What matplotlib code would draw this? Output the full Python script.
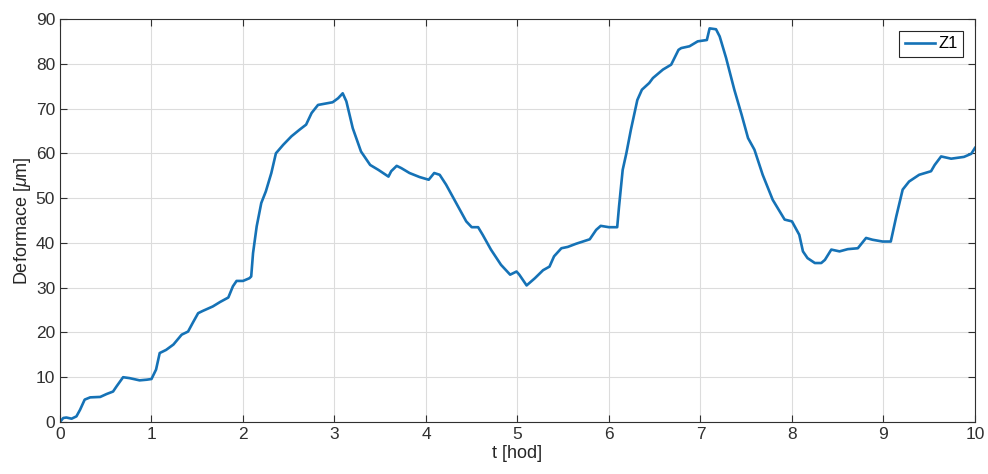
import numpy as np
import matplotlib
matplotlib.use("Agg")
import matplotlib.pyplot as plt

# Odečtené body křivky Z1 (čas v hodinách, deformace v µm)
t_hod = [0.0, 0.036, 0.07, 0.127, 0.18, 0.22, 0.27, 0.33, 0.44, 0.51, 0.58, 0.62,
         0.69, 0.76, 0.87, 0.95, 1.0, 1.05, 1.09, 1.16, 1.24, 1.33, 1.4, 1.45,
         1.51, 1.56, 1.67, 1.75, 1.84, 1.89, 1.93, 2.0, 2.07, 2.09, 2.11, 2.15,
         2.2, 2.25, 2.31, 2.36, 2.44, 2.53, 2.62, 2.69, 2.75, 2.82, 2.98, 3.04,
         3.09, 3.13, 3.2, 3.29, 3.39, 3.48, 3.59, 3.62, 3.68, 3.73, 3.82, 3.93,
         4.03, 4.09, 4.15, 4.22, 4.33, 4.44, 4.5, 4.57, 4.62, 4.71, 4.82, 4.92,
         4.99, 5.02, 5.1, 5.19, 5.28, 5.35, 5.4, 5.48, 5.55, 5.64, 5.79, 5.86,
         5.91, 6.0, 6.09, 6.11, 6.15, 6.19, 6.24, 6.31, 6.36, 6.44, 6.48, 6.59,
         6.68, 6.76, 6.79, 6.88, 6.97, 7.07, 7.1, 7.17, 7.21, 7.28, 7.37, 7.45,
         7.52, 7.59, 7.68, 7.79, 7.92, 8.0, 8.08, 8.12, 8.17, 8.25, 8.32, 8.36,
         8.43, 8.52, 8.61, 8.72, 8.81, 8.88, 8.99, 9.08, 9.14, 9.21, 9.28, 9.39,
         9.52, 9.56, 9.63, 9.74, 9.88, 9.96, 10.0]
z1 = [0.0, 0.9, 1.0, 0.74, 1.26, 2.75, 5.0, 5.5, 5.6, 6.25, 6.8, 8.0,
      10.0, 9.8, 9.3, 9.45, 9.6, 11.7, 15.4, 16.1, 17.3, 19.5, 20.2, 22.1,
      24.3, 24.8, 25.8, 26.8, 27.8, 30.3, 31.5, 31.5, 32.1, 32.5, 37.7, 43.7,
      48.9, 51.5, 55.6, 60.0, 61.9, 63.8, 65.3, 66.4, 69.0, 70.8, 71.4, 72.3,
      73.4, 71.6, 65.6, 60.4, 57.4, 56.3, 54.8, 56.0, 57.2, 56.7, 55.6, 54.7,
      54.1, 55.6, 55.2, 53.0, 48.9, 44.8, 43.5, 43.5, 41.8, 38.5, 35.1, 32.9,
      33.6, 32.9, 30.5, 32.1, 33.9, 34.7, 37.0, 38.8, 39.1, 39.8, 40.8, 42.9,
      43.8, 43.5, 43.5, 48.1, 56.3, 60.0, 65.3, 71.9, 74.2, 75.7, 76.8, 78.7,
      79.8, 83.1, 83.5, 83.9, 85.0, 85.3, 87.9, 87.7, 86.1, 81.3, 74.2, 68.6,
      63.4, 60.8, 55.2, 49.6, 45.2, 44.8, 41.8, 38.1, 36.6, 35.5, 35.5, 36.2,
      38.5, 38.1, 38.6, 38.8, 41.1, 40.7, 40.3, 40.3, 45.9, 51.9, 53.7, 55.2,
      56.0, 57.4, 59.3, 58.8, 59.2, 59.9, 61.2]

x_ticks = np.arange(0, 11, 1)
y_ticks = np.arange(0, 100, 10)

plt.rcParams['font.family'] = ['Liberation Sans', 'DejaVu Sans']
plt.rcParams['mathtext.fontset'] = 'custom'
plt.rcParams['mathtext.it'] = 'Liberation Sans:italic'
plt.rcParams['mathtext.rm'] = 'Liberation Sans'

fig = plt.figure(figsize=(9.88, 4.74), dpi=100)
ax = fig.add_axes([0.0607, 0.1097, 0.9261, 0.8503])

ax.plot(t_hod, z1, color='#1572B6', linewidth=1.9, label='Z1')

ax.set_xlim(0, 10)
ax.set_ylim(0, 90)
ax.set_xticks(x_ticks)
ax.set_yticks(y_ticks)
ax.grid(True, color='#dcdcdc', linewidth=0.8)
ax.set_axisbelow(True)

ax.tick_params(direction='in', length=5, width=0.8, colors='#303030',
               labelsize=12.5, top=True, right=True)
for s in ax.spines.values():
    s.set_color('#303030')
    s.set_linewidth(0.8)

ax.set_xlabel('t [hod]', fontsize=13, color='#262626', labelpad=2)
ax.set_ylabel(r'Deformace [$\mu$m]', fontsize=13, color='#262626', labelpad=2)

leg = ax.legend(loc='upper right', fontsize=12, fancybox=False,
                edgecolor='#262626', framealpha=1, handlelength=1.8,
                handletextpad=0.2, borderpad=0.35, borderaxespad=0.7)
leg.get_frame().set_linewidth(0.8)

fig.savefig('out.png', dpi=100)
